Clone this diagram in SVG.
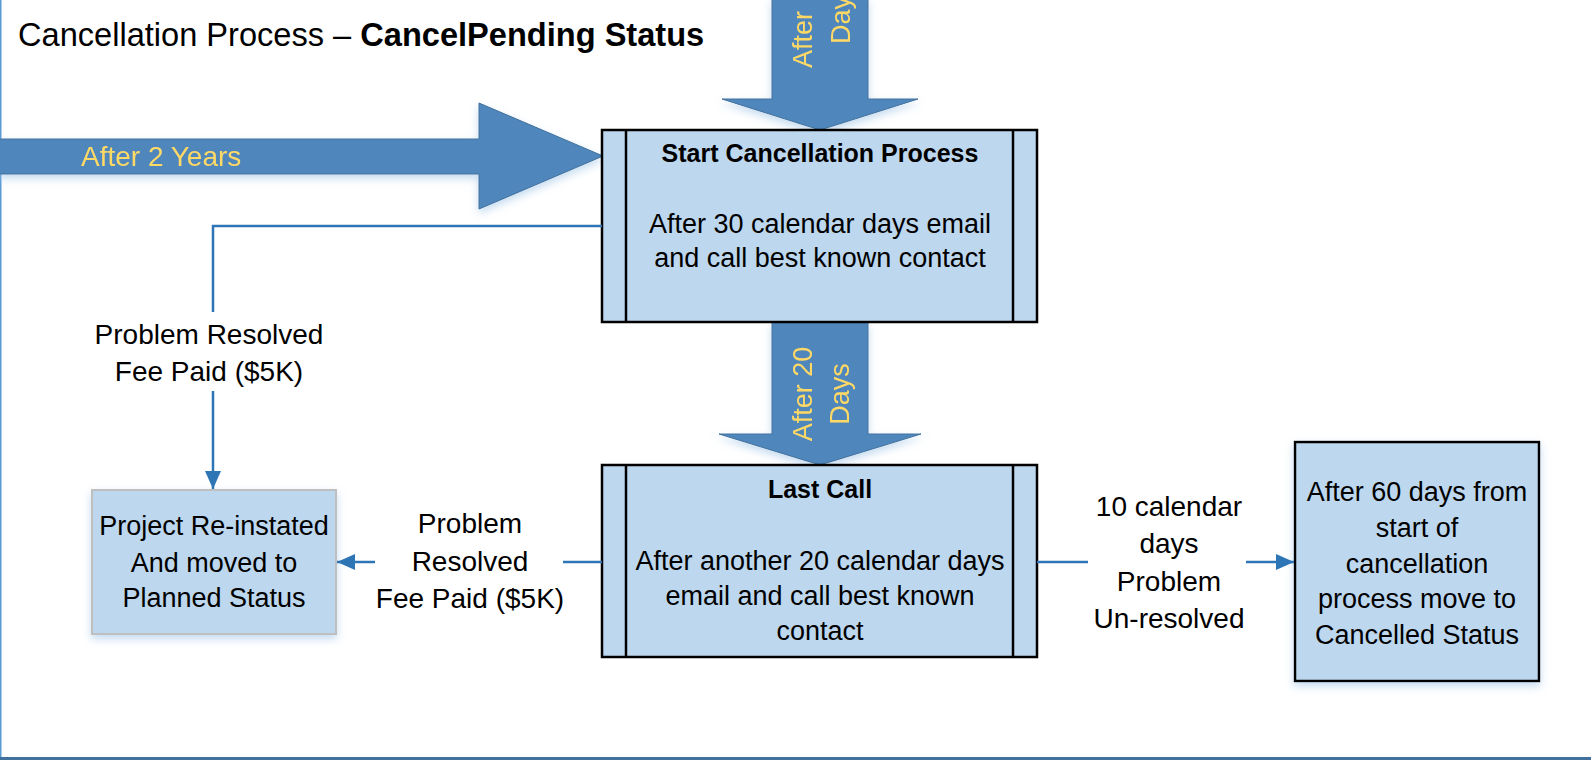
<svg xmlns="http://www.w3.org/2000/svg" width="1591" height="762" viewBox="0 0 1591 762">
<style>
.t{font-family:"Liberation Sans",Arial,sans-serif;font-size:27px;fill:#000;text-anchor:middle}
.l{font-size:28px}
.b{font-weight:bold;font-size:25px}
.y{font-family:"Liberation Sans",Arial,sans-serif;font-size:27px;fill:#FFD966}
.box{fill:#BDD7EE;stroke:#000;stroke-width:2.5}
.arr{fill:#4F86BC;stroke:#41719C;stroke-width:1}
.con{fill:none;stroke:#2E75B6;stroke-width:2.5}
</style>
<defs>
<filter id="sh" x="-20%" y="-20%" width="140%" height="150%">
<feDropShadow dx="0" dy="4" stdDeviation="4" flood-color="#9DC3E6" flood-opacity="0.6"/>
</filter>
<marker id="ah" markerUnits="userSpaceOnUse" markerWidth="18" markerHeight="16" refX="18" refY="8" orient="auto">
<path d="M0,0 L18,8 L0,16 z" fill="#2E75B6"/>
</marker>
</defs>
<rect x="0" y="0" width="1591" height="762" fill="#fff"/>
<line x1="0.75" y1="0" x2="0.75" y2="758" stroke="#5B9BD5" stroke-width="1.5"/>
<line x1="0" y1="758.5" x2="1591" y2="758.5" stroke="#41719C" stroke-width="3"/>
<text x="18" y="46" style="font-family:'Liberation Sans',Arial,sans-serif;font-size:32.6px;fill:#000">Cancellation Process – <tspan font-weight="bold">CancelPending Status</tspan></text>

<g id="arrow-top" filter="url(#sh)">
<path class="arr" d="M772,-2 H868 V99 H918 L820,130 L722,99 H772 Z"/>
<text class="y" transform="translate(812,68) rotate(-90)">After</text>
<text class="y" transform="translate(850,44) rotate(-90)">Days</text>
</g>
<g id="arrow-left" filter="url(#sh)">
<path class="arr" d="M-2,139 H479 V103 L603,156 L479,209 V174 H-2 Z"/>
<text class="y" x="81" y="166" style="font-size:28px">After 2 Years</text>
</g>
<g id="arrow-mid" filter="url(#sh)">
<path class="arr" d="M772,322 H868 V434 H921 L820,465 L719,434 H772 Z"/>
<text class="y" text-anchor="middle" transform="translate(812,394) rotate(-90)">After 20</text>
<text class="y" text-anchor="middle" transform="translate(849,394) rotate(-90)">Days</text>
</g>

<g id="start">
<rect class="box" x="602" y="130" width="435" height="192"/>
<line x1="626" y1="130" x2="626" y2="322" stroke="#000" stroke-width="2.5"/>
<line x1="1013" y1="130" x2="1013" y2="322" stroke="#000" stroke-width="2.5"/>
<text class="t b" x="820" y="162">Start Cancellation Process</text>
<text class="t" x="820" y="233">After 30 calendar days email</text>
<text class="t" x="820" y="267">and call best known contact</text>
</g>
<g id="lastcall">
<rect class="box" x="602" y="465" width="435" height="192"/>
<line x1="626" y1="465" x2="626" y2="657" stroke="#000" stroke-width="2.5"/>
<line x1="1013" y1="465" x2="1013" y2="657" stroke="#000" stroke-width="2.5"/>
<text class="t b" x="820" y="498">Last Call</text>
<text class="t" x="820" y="570">After another 20 calendar days</text>
<text class="t" x="820" y="605">email and call best known</text>
<text class="t" x="820" y="640">contact</text>
</g>
<g id="reinstated">
<rect x="92" y="490" width="244" height="144" fill="#BDD7EE" stroke="#BFBFBF" stroke-width="2" filter="url(#sh)"/>
<text class="t" x="214" y="535">Project Re-instated</text>
<text class="t" x="214" y="572">And moved to</text>
<text class="t" x="214" y="607">Planned Status</text>
</g>
<g id="cancelled">
<rect class="box" x="1295" y="442" width="244" height="239" filter="url(#sh)"/>
<text class="t" x="1417" y="501">After 60 days from</text>
<text class="t" x="1417" y="537">start of</text>
<text class="t" x="1417" y="573">cancellation</text>
<text class="t" x="1417" y="608">process move to</text>
<text class="t" x="1417" y="644">Cancelled Status</text>
</g>

<g id="connectors">
<path class="con" d="M602,226 H213 V312"/>
<path class="con" d="M213,391 V489" marker-end="url(#ah)"/>
<text class="t l" x="209" y="344">Problem Resolved</text>
<text class="t l" x="209" y="381">Fee Paid ($5K)</text>
<path class="con" d="M602,562 H563"/>
<path class="con" d="M375,562 H337" marker-end="url(#ah)"/>
<text class="t l" x="470" y="533">Problem</text>
<text class="t l" x="470" y="571">Resolved</text>
<text class="t l" x="470" y="608">Fee Paid ($5K)</text>
<path class="con" d="M1037,562 H1088"/>
<path class="con" d="M1246,562 H1294" marker-end="url(#ah)"/>
<text class="t l" x="1169" y="516">10 calendar</text>
<text class="t l" x="1169" y="553">days</text>
<text class="t l" x="1169" y="591">Problem</text>
<text class="t l" x="1169" y="628">Un-resolved</text>
</g>
</svg>
